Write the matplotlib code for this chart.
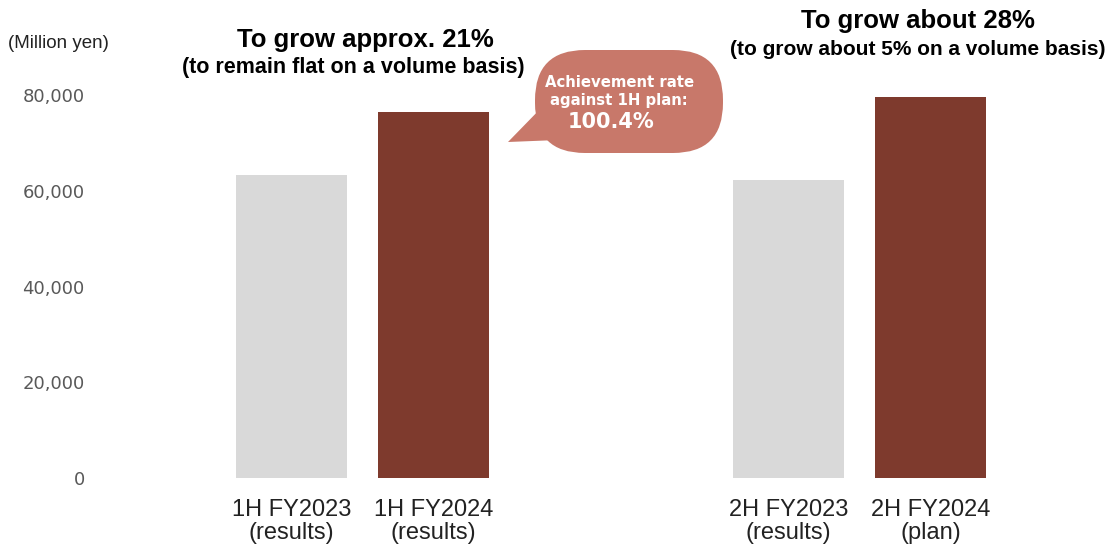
import matplotlib.pyplot as plt
from matplotlib.patches import FancyBboxPatch, Polygon
from matplotlib.ticker import FuncFormatter

# net sales by half-year, million yen
periods = ["1H FY2023\n(results)", "1H FY2024\n(results)",
           "2H FY2023\n(results)", "2H FY2024\n(plan)"]
sales = [63300, 76500, 62200, 79600]
positions = [0, 1, 3.5, 4.5]
bar_colors = ["#d9d9d9", "#7e3a2d", "#d9d9d9", "#7e3a2d"]
y_ticks = [0, 20000, 40000, 60000, 80000]

W, H = 1118, 554
fig = plt.figure(figsize=(W / 100, H / 100), dpi=100)

# main axes: placed so one x unit is 142 px and 0..80,000 spans 478..95 px
left_px, right_px = 100, 1100
ax = fig.add_axes([left_px / W, (H - 478) / H, (right_px - left_px) / W, 383 / H])
ax.bar(positions, sales, width=0.78, color=bar_colors)
ax.set_xlim((left_px - 291.5) / 142, (right_px - 291.5) / 142)
ax.set_ylim(0, 80000)
ax.set_yticks(y_ticks)
ax.yaxis.set_major_formatter(FuncFormatter(lambda v, _: f"{v:,.0f}"))
ax.set_xticks(positions)
ax.set_xticklabels(periods, fontsize=17, family="Liberation Sans",
                   color="#222222", linespacing=1.05)
ax.tick_params(axis="y", length=0, pad=11, labelsize=13, labelcolor="#595959")
ax.tick_params(axis="x", length=0, pad=15)
for s in ax.spines.values():
    s.set_visible(False)

# overlay in pixel coordinates for the headings and the callout
ov = fig.add_axes([0, 0, 1, 1])
ov.set_xlim(0, W)
ov.set_ylim(H, 0)
ov.axis("off")

ov.text(8, 44, "(Million yen)", fontsize=13.5, family="Liberation Sans",
        color="#222222", va="center", ha="left")

head = dict(fontweight="bold", family="Liberation Sans", ha="center",
            va="baseline", color="black")
ov.text(365, 47, "To grow approx. 21%", fontsize=18.5, **head)
ov.text(353, 73, "(to remain flat on a volume basis)", fontsize=15.5, **head)
ov.text(918, 28, "To grow about 28%", fontsize=18.5, **head)
ov.text(918, 55, "(to grow about 5% on a volume basis)", fontsize=15, **head)

# speech bubble with a tail pointing at the 1H FY2024 bar
bubble_color = "#c8786a"
ov.add_patch(FancyBboxPatch((535, 50), 188, 103,
                            boxstyle="round,pad=0,rounding_size=50",
                            facecolor=bubble_color, edgecolor="none"))
ov.add_patch(Polygon([(545, 104), (508, 142), (558, 140)],
                     closed=True, facecolor=bubble_color, edgecolor="none"))
bub = dict(fontweight="bold", color="white", ha="center", va="baseline")
ov.text(620, 87, "Achievement rate", fontsize=10.7, **bub)
ov.text(619, 105, "against 1H plan:", fontsize=10.7, **bub)
ov.text(611, 128, "100.4%", fontsize=15, **bub)

fig.savefig("out.png", dpi=100)
